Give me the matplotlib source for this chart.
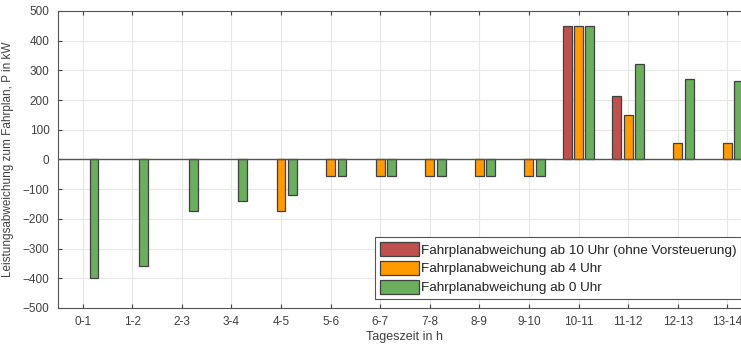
import numpy as np
import matplotlib.pyplot as plt

plt.rcParams['font.family'] = ['Liberation Sans', 'DejaVu Sans']

hours = ['0-1', '1-2', '2-3', '3-4', '4-5', '5-6', '6-7', '7-8', '8-9', '9-10',
         '10-11', '11-12', '12-13', '13-14']
ab_10 = [0, 0, 0, 0, 0, 0, 0, 0, 0, 0, 450, 215, 0, 0]
ab_4 = [0, 0, 0, 0, -175, -55, -55, -55, -55, -55, 450, 150, 55, 55]
ab_0 = [-400, -360, -175, -140, -120, -55, -55, -55, -55, -55, 450, 320, 270, 265]

labels = ['Fahrplanabweichung ab 10 Uhr (ohne Vorsteuerung)',
          'Fahrplanabweichung ab 4 Uhr',
          'Fahrplanabweichung ab 0 Uhr']
colors = ['#c0504d', '#ff9a00', '#6aae5e']

fig = plt.figure(figsize=(7.41, 3.49), dpi=100)
ax = fig.add_axes([0.078, 0.1175, 0.937, 0.851])

x = np.arange(len(hours))
w = 0.18
off = 0.23
for i, (vals, lab, c) in enumerate(zip([ab_10, ab_4, ab_0], labels, colors)):
    xs = x + (i - 1) * off
    # skip zero bars so they don't show up as slivers
    mask = np.array(vals) != 0
    ax.bar(xs[mask], np.array(vals)[mask], width=w, color=c, edgecolor='#404040',
           linewidth=0.9, label=lab, zorder=3)

ax.axhline(0, color='#555555', linewidth=1.0, zorder=4)

ax.set_xlim(-0.5, 13.5)
ax.set_ylim(-500, 500)
ax.set_yticks(np.arange(-500, 501, 100))
ax.set_xticks(x)
ax.set_xticklabels(hours)
ax.grid(True, color='#e6e6e6', linewidth=0.8, zorder=0)
ax.tick_params(direction='in', top=True, right=True, labelsize=8.5,
               colors='#404040', length=3, pad=6)
for s in ax.spines.values():
    s.set_color('#555555')
    s.set_linewidth(0.8)

ax.set_xlabel('Tageszeit in h', fontsize=9, color='#404040', labelpad=2)
ax.set_ylabel('Leistungsabweichung zum Fahrplan, P in kW', fontsize=8.5,
              color='#404040', labelpad=6)

leg = ax.legend(loc='lower right', bbox_to_anchor=(0.984, 0.03), fontsize=9.7,
                handlelength=2.9, handleheight=1.3, labelspacing=0.3,
                handletextpad=0.15, borderpad=0.35, fancybox=False,
                framealpha=1, borderaxespad=0)
leg.get_frame().set_edgecolor('#555555')
leg.get_frame().set_linewidth(0.8)
for t in leg.get_texts():
    t.set_color('#222222')

fig.savefig('out.png', dpi=100)
